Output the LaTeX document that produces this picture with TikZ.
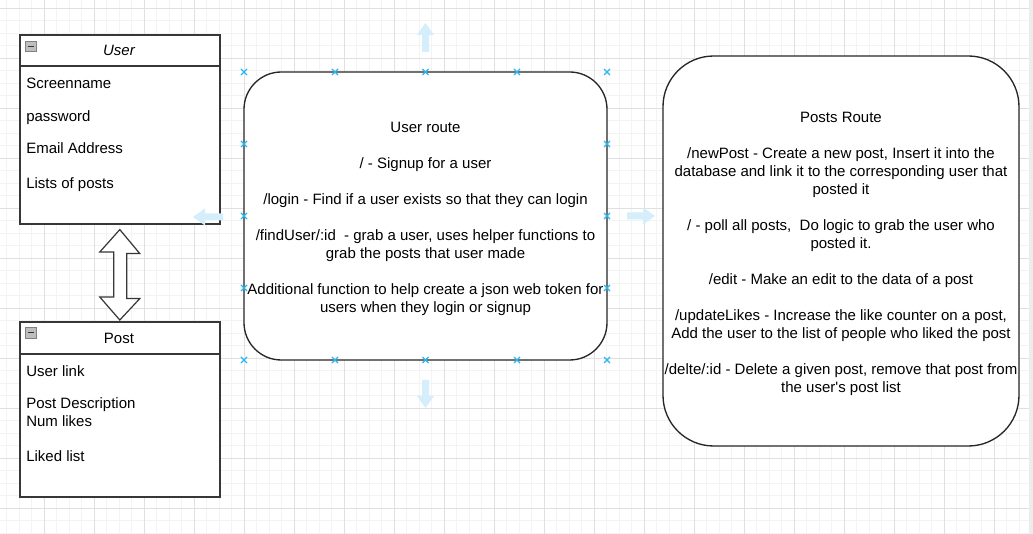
\documentclass[tikz,border=0pt]{standalone}
\usepackage{fontspec}
\setmainfont{Liberation Sans}
\newfontfamily\nomapfont{Liberation Sans}
\usetikzlibrary{calc}
\definecolor{gridminor}{RGB}{243,243,243}
\definecolor{gridmajor}{RGB}{224,224,224}
\definecolor{hint}{RGB}{41,182,242}
\definecolor{hintarrow}{RGB}{212,238,252}
\definecolor{boxline}{RGB}{55,55,55}
\definecolor{iconfill}{RGB}{190,190,190}
\begin{document}
\begin{tikzpicture}[x=0.75pt,y=-0.75pt,
  font=\fontsize{11.25}{13.5}\selectfont,
  umlbox/.style={draw=boxline, line width=1.2pt, fill=white, rectangle, inner sep=0pt, minimum width=150pt, anchor=north west},
  field/.style={anchor=base west, inner sep=0pt},
  title/.style={anchor=base, inner sep=0pt},
  routebox/.style={draw=black!85, line width=1pt, fill=white, inner sep=0pt},
  routetext/.style={align=center, inner sep=0pt},
  hintx/.style={draw=hint, line width=0.9pt},
  hintarr/.style={fill=hintarrow, draw=none},
  icon/.style={draw=gray, fill=iconfill, line width=0.5pt},
  dblarrow/.style={draw=boxline, line width=0.9pt, fill=white}]

% background and grid
\fill[white] (0,0) rectangle (1033,534);
\useasboundingbox (0,0) rectangle (1033,534);
\foreach \i in {-3,...,79} {\draw[gridminor, line width=0.6pt] ({44+12.5*\i},0) -- ({44+12.5*\i},534);}
\foreach \i in {0,...,42} {\draw[gridminor, line width=0.6pt] (0,{8+12.5*\i}) -- (1033,{8+12.5*\i});}
\foreach \i in {-1,...,20} {\draw[gridmajor, line width=0.6pt] ({44+50*\i},0) -- ({44+50*\i},534);}
\foreach \i in {0,...,10} {\draw[gridmajor, line width=0.6pt] (0,{8+50*\i}) -- (1033,{8+50*\i});}
\fill[gray!15] (1029,0) rectangle (1033,534);

% User class
\node[umlbox, minimum height=141.75pt] (user) at (19,34) {};
\draw[boxline, line width=1.2pt] (19,66) -- (219,66);
\draw[icon] (25.5,41) rectangle (36,51.5);
\draw[black!80, line width=1pt] (27.5,46.2) -- (34,46.2);
\node[title] (usertitle) at (119,56) {\itshape User};
\node[field] (f1) at (26,88.5) {Screenname};
\node[field] (f2) at (26,121.5) {password};
\node[field] (f3) at (26,153.5) {Email Address};
\node[field] (f4) at (26,188.5) {Lists of posts};

% Post class
\node[umlbox, minimum height=131.25pt] (post) at (19,321) {};
\draw[boxline, line width=1.2pt] (19,354) -- (219,354);
\draw[icon] (25.5,327.5) rectangle (36,338);
\draw[black!80, line width=1pt] (27.5,332.7) -- (34,332.7);
\node[title] (posttitle) at (119,343.5) {Post};
\node[field] (p1) at (26,376.5) {User link};
\node[field] (p2) at (26,408.5) {Post Description};
\node[field] (p3) at (26,426.5) {Num likes};
\node[field] (p4) at (26,461.5) {Liked list};

% double arrow between User and Post
\draw[dblarrow] ($(user.south)+(0,5)$) -- ++(20,24) -- ++(-13,0) -- ++(0,45) -- ++(13,0)
  -- ($(post.north)+(0,-1)$) -- ++(-20,-23) -- ++(14,0) -- ++(0,-45) -- ++(-14,0) -- cycle;

% User route
\node[routebox, minimum width=272.25pt, minimum height=216pt, rounded corners=28pt] (userroute) at (425.5,216) {};
\node[routetext] (userroutetext) at ($(userroute.center)+(0,3)$) {%
User route\\[13.5pt]
/ - Signup for a user\\[13.5pt]
/login - Find if a user exists so that they can login\\[13.5pt]
/findUser/:id\ \ - grab a user, uses helper functions to\\
grab the posts that user made\\[13.5pt]
Additional function to help create a json web token for\\
users when they login or signup};

% Posts route
\node[routebox, minimum width=267pt, minimum height=292.5pt, rounded corners=38pt] (postsroute) at (841,251) {};
\node[routetext] (postsroutetext) at ($(postsroute.center)+(0,3)$) {%
Posts Route\\[13.5pt]
/newPost - Create a new post, Insert it into the\\
database and link it to the corresponding user that\\
posted it\\[13.5pt]
/ - poll all posts,\ \ Do logic to grab the user who\\
posted it.\\[13.5pt]
/edit - Make an edit to the data of a post\\[13.5pt]
/updateLikes - Increase the like counter on a post,\\
Add the user to the list of people who liked the post\\[13.5pt]
/delte/:id - Delete a given post, remove that post from\\
the user{\nomapfont '}s post list};

% hover hint arrows
\fill[hintarr] (425.5,23) -- (434,35) -- (429,35) -- (429,52) -- (422,52) -- (422,35) -- (417,35) -- cycle;
\fill[hintarr] (425.5,408) -- (434,396) -- (429,396) -- (429,380) -- (422,380) -- (422,396) -- (417,396) -- cycle;
\fill[hintarr] (193,217) -- (205,208.5) -- (205,213.5) -- (223,213.5) -- (223,220.5) -- (205,220.5) -- (205,225.5) -- cycle;
\fill[hintarr] (655,216) -- (643,207.5) -- (643,212.5) -- (627,212.5) -- (627,219.5) -- (643,219.5) -- (643,224.5) -- cycle;

% connection point markers
\foreach \x in {244,335,425.5,517,607} {
  \draw[hintx] (\x-3,72-3) -- (\x+3,72+3) (\x-3,72+3) -- (\x+3,72-3);
  \draw[hintx] (\x-3,360-3) -- (\x+3,360+3) (\x-3,360+3) -- (\x+3,360-3);
}
\foreach \y in {144,216,288} {
  \draw[hintx] (244-3,\y-3) -- (244+3,\y+3) (244-3,\y+3) -- (244+3,\y-3);
  \draw[hintx] (607-3,\y-3) -- (607+3,\y+3) (607-3,\y+3) -- (607+3,\y-3);
}
\end{tikzpicture}
\end{document}
